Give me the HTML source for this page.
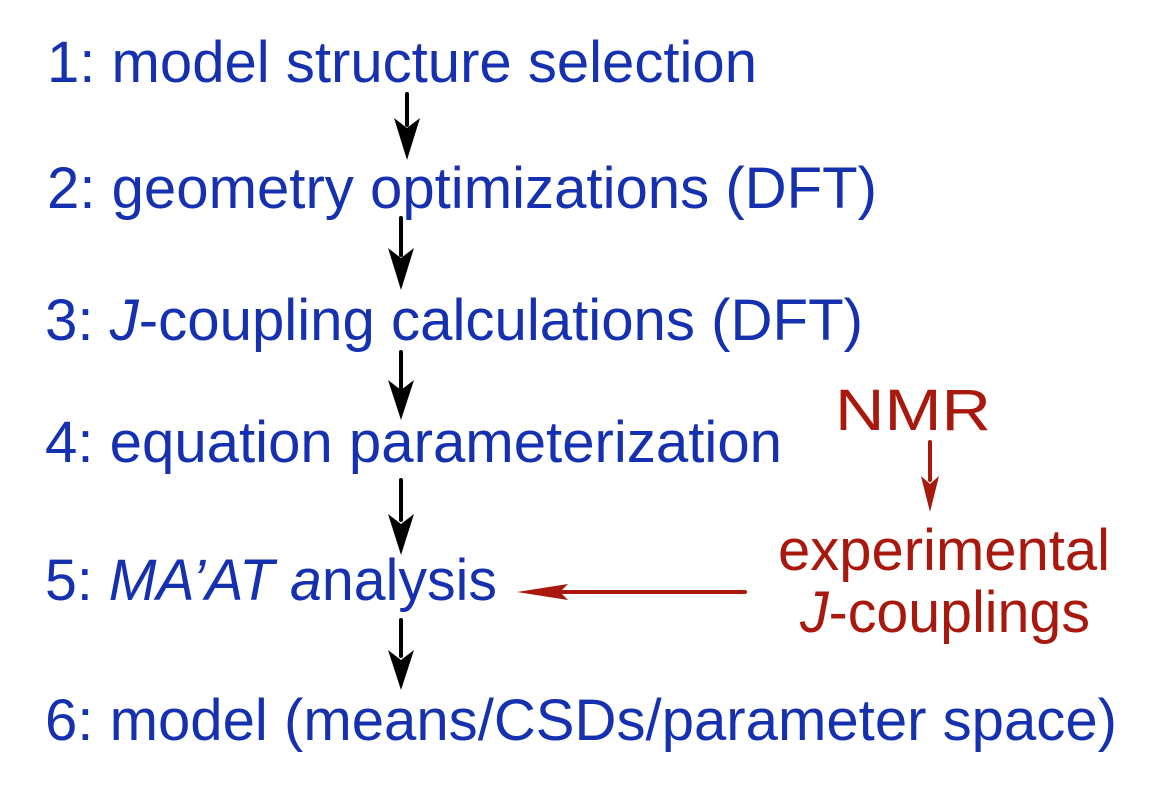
<!DOCTYPE html>
<html><head><meta charset="utf-8"><style>
html,body{margin:0;padding:0;background:#fff;}
svg text{font-family:"Liberation Sans",Arial,sans-serif;font-size:58px;}
.b{fill:#1531b0;}
.r{fill:#a8180c;}
</style></head><body>
<svg width="1162" height="790" viewBox="0 0 1162 790" xmlns="http://www.w3.org/2000/svg">
<defs>
<marker id="ak" markerWidth="10" markerHeight="14" refX="10" refY="7" orient="auto" markerUnits="userSpaceOnUse" viewBox="0 0 10 14"></marker>
</defs>
<text class="b" x="47" y="82" textLength="710" lengthAdjust="spacingAndGlyphs">1: model structure selection</text>
<text class="b" x="47" y="208" textLength="830" lengthAdjust="spacingAndGlyphs">2: geometry optimizations (DFT)</text>
<text class="b" x="45" y="340" textLength="818" lengthAdjust="spacingAndGlyphs">3: <tspan font-style="italic">J</tspan>-coupling calculations (DFT)</text>
<text class="b" x="45" y="462" textLength="737" lengthAdjust="spacingAndGlyphs">4: equation parameterization</text>
<text class="b" x="45" y="600" textLength="452" lengthAdjust="spacingAndGlyphs">5: <tspan font-style="italic">MA’AT a</tspan>nalysis</text>
<text class="b" x="45" y="740" textLength="1072" lengthAdjust="spacingAndGlyphs">6: model (means/CSDs/parameter space)</text>
<text class="r" x="835" y="430" textLength="156" lengthAdjust="spacingAndGlyphs">NMR</text>
<text class="r" x="778" y="570" textLength="332" lengthAdjust="spacingAndGlyphs">experimental</text>
<text class="r" x="800" y="632" textLength="290" lengthAdjust="spacingAndGlyphs"><tspan font-style="italic">J</tspan>-couplings</text>
<g stroke="#000" stroke-width="4" stroke-linecap="round">
<line x1="407" y1="94" x2="407" y2="125"/>
<line x1="401" y1="218" x2="401" y2="255"/>
<line x1="401" y1="352" x2="401" y2="388"/>
<line x1="401" y1="480" x2="401" y2="520"/>
<line x1="401" y1="620" x2="401" y2="656"/>
</g>
<g fill="#000">
<path d="M394,118 L407,128 L420,118 L407,160 Z"/>
<path d="M388,248 L401,258 L414,248 L401,290 Z"/>
<path d="M388,380 L401,390 L414,380 L401,420 Z"/>
<path d="M388,514 L401,524 L414,514 L401,555 Z"/>
<path d="M388,650 L401,660 L414,650 L401,690 Z"/>
</g>
<g stroke="#a8180c" stroke-width="4" stroke-linecap="round">
<line x1="930" y1="442" x2="930" y2="480"/>
<line x1="745" y1="592" x2="560" y2="592"/>
</g>
<g fill="#a8180c">
<path d="M921,476 L930,484 L939,476 L930,512 Z"/>
<path d="M568,584 L560,592 L568,600 L517,592 Z"/>
</g>
</svg>
</body></html>
